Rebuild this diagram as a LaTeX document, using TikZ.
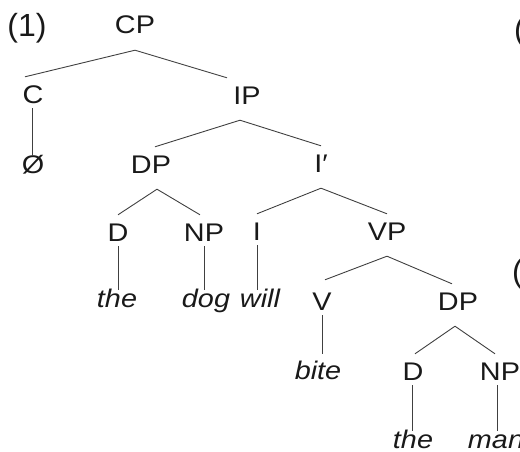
\documentclass[tikz,border=0pt]{standalone}
\usepackage{fontspec}
\setmainfont[FakeStretch=1.13]{Liberation Sans}
\newfontfamily\numfont{Liberation Sans}
\begin{document}
\begin{tikzpicture}[x=1pt,y=-1pt,
  every node/.style={inner sep=0pt,anchor=base,text=black!90,font=\fontsize{25.5}{30}\selectfont},
  phr/.style={text height=26pt,text depth=16pt},
  hd/.style={text height=26pt,text depth=5pt},
  lf/.style={text height=17pt,text depth=0pt,font=\fontsize{25.5}{30}\selectfont\itshape},
  nul/.style={text height=17pt,text depth=0pt},
  exnum/.style={font=\numfont\fontsize{32}{36}\selectfont},
  br/.style={draw=black!75,line width=0.9pt}]
\useasboundingbox (0,0) rectangle (520,452);
% labels
\node[exnum] (ex1) at (27,37) {(1)};
\node[exnum,anchor=base west] (frag1) at (514,41) {(};
\node[exnum,anchor=base west] (frag2) at (512,282) {(};
% tree nodes
\node[phr] (CP) at (135,34) {CP};
\node[hd] (C) at (33,103) {C};
\node[phr] (IP) at (247,104) {IP};
\node[nul] (null) at (33,173) {Ø};
\node[phr] (DP) at (151,173) {DP};
\node[phr] (Ibar) at (321,172) {I′};
\node[hd] (D) at (118,241) {D};
\node[hd] (NP) at (204,241) {NP};
\node[hd] (I) at (257,240) {I};
\node[phr] (VP) at (387,240) {VP};
\node[lf] (the) at (117,307) {the};
\node[lf] (dog) at (206,307) {dog};
\node[lf] (will) at (260,307) {will};
\node[hd] (V) at (322,310) {V};
\node[phr] (DPb) at (458,310) {DP};
\node[lf] (bite) at (318,379) {bite};
\node[hd] (Db) at (413,380) {D};
\node[hd] (NPb) at (500,380) {NP};
\node[lf] (theb) at (413,448) {the};
\node[lf] (man) at (496,448) {man};
% branches
\draw[br] (CP.south) -- ([xshift=-8pt]C.north);
\draw[br] (CP.south) -- ([xshift=-20pt]IP.north);
\draw[br] ([xshift=-1pt]C.south) -- ([xshift=-1pt]C.south |- null.north);
\draw[br] ([xshift=-7pt]IP.south) -- ([xshift=4pt]DP.north);
\draw[br] ([xshift=-7pt]IP.south) -- (Ibar.north);
\draw[br] ([xshift=6pt]DP.south) -- (D.north);
\draw[br] ([xshift=6pt]DP.south) -- ([xshift=-4pt]NP.north);
\draw[br] (Ibar.south) -- (I.north);
\draw[br] (Ibar.south) -- (VP.north);
\draw[br] (D.south) -- (D.south |- the.north);
\draw[br] (NP.south) -- (NP.south |- dog.north);
\draw[br] (I.south) -- (I.south |- will.north);
\draw[br] (VP.south) -- ([xshift=3pt,yshift=4pt]V.north);
\draw[br] (VP.south) -- ([xshift=-6pt]DPb.north);
\draw[br] (V.south) -- ([yshift=8pt]V.south |- bite.north);
\draw[br] ([xshift=-3pt]DPb.south) -- ([xshift=2pt]Db.north);
\draw[br] ([xshift=-3pt]DPb.south) -- ([xshift=-5pt]NPb.north);
\draw[br] ([xshift=-1pt]Db.south) -- ([xshift=-1pt]Db.south |- theb.north);
\draw[br] ([xshift=-3pt]NPb.south) -- ([xshift=-3pt]NPb.south |- man.north);
\end{tikzpicture}
\end{document}
